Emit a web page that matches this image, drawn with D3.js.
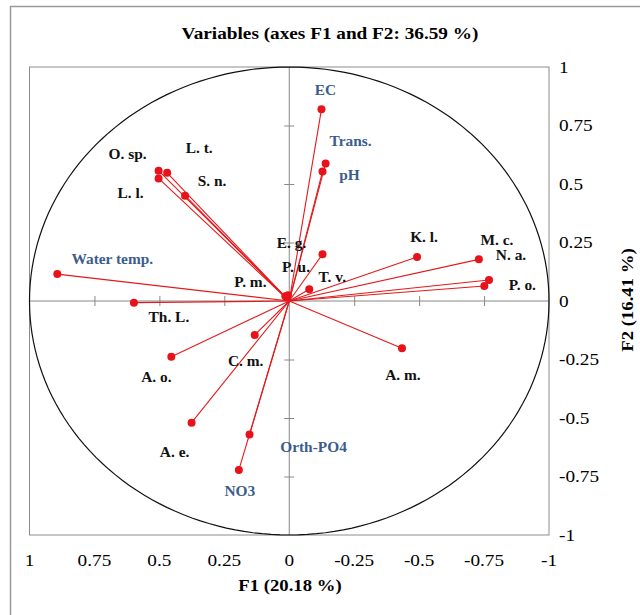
<!DOCTYPE html>
<html>
<head>
<meta charset="utf-8">
<script src="https://cdn.jsdelivr.net/npm/d3@7"></script>
<style>
  body { margin: 0; background: #fff; }
  svg { display: block; font-family: "Liberation Serif", "Times New Roman", serif; }
</style>
</head>
<body>
<svg id="chart" width="640" height="615"></svg>
<script>
// variables (loadings on F1, F2)
var names = ["O. sp.", "L. t.", "L. l.", "S. n.", "Water temp.", "Th. L.", "P. m.",
             "EC", "Trans.", "pH", "E. g.", "P. u.", "T. v.",
             "K. l.", "M. c.", "N. a.", "P. o.", "A. m.",
             "A. o.", "C. m.", "A. e.", "Orth-PO4", "NO3"];
var f1 = [0.503, 0.470, 0.503, 0.401, 0.893, 0.598, 0.015,
          -0.124, -0.140, -0.128, -0.128, 0.005, -0.077,
          -0.492, -0.730, -0.769, -0.751, -0.434,
          0.454, 0.133, 0.376, 0.153, 0.194];
var f2 = [0.557, 0.548, 0.524, 0.450, 0.115, -0.007, 0.020,
          0.819, 0.588, 0.553, 0.200, 0.025, 0.050,
          0.188, 0.178, 0.090, 0.064, -0.202,
          -0.238, -0.145, -0.520, -0.571, -0.722];
// environmental variables get the blue labels
var envVars = ["Water temp.", "EC", "Trans.", "pH", "Orth-PO4", "NO3"];

var xTicks = [1, 0.75, 0.5, 0.25, 0, -0.25, -0.5, -0.75, -1];
var yTicks = [1, 0.75, 0.5, 0.25, 0, -0.25, -0.5, -0.75, -1];
var innerTicks = [-0.75, -0.5, -0.25, 0.25, 0.5, 0.75];

// label placement relative to the point (layout only)
var labelOffset = {
  "O. sp.": [-31, -16], "L. t.": [32, -25], "L. l.": [-28, 15], "S. n.": [27, -14],
  "Water temp.": [55, -15], "Th. L.": [35, 15], "P. m.": [-35, -14],
  "EC": [4, -19], "Trans.": [25, -22], "pH": [27, 4], "E. g.": [-31, -11],
  "P. u.": [8, -28], "T. v.": [23, -12],
  "K. l.": [7, -20], "M. c.": [18, -19], "N. a.": [22, -25], "P. o.": [38, -1],
  "A. m.": [1, 27], "A. o.": [-15, 21], "C. m.": [-9, 26], "A. e.": [-17, 30],
  "Orth-PO4": [64, 13], "NO3": [1, 21]
};

var svg = d3.select("#chart");
var stretch = 1.1; // text in the picture is a bit wider than tall

var x = d3.scaleLinear().domain([1, -1]).range([29.5, 549]);
var y = d3.scaleLinear().domain([1, -1]).range([67, 535]);

function txt(g, str, px, py, opts) {
  var t = g.append("text")
    .attr("transform", "translate(" + px + "," + py + ")" + (opts.rot ? " rotate(" + opts.rot + ")" : "") + " scale(" + stretch + ",1)")
    .attr("text-anchor", opts.anchor || "middle")
    .attr("dominant-baseline", "central")
    .style("font-size", opts.size + "px")
    .style("font-weight", opts.bold ? "bold" : "normal")
    .style("fill", opts.color || "#000")
    .text(str);
  return t;
}

// outer frame
svg.append("rect")
  .attr("x", 10.5).attr("y", 6.5).attr("width", 640).attr("height", 620)
  .style("fill", "none").style("stroke", "#9a9a9a").style("stroke-width", 1.5);

txt(svg, "Variables (axes F1 and F2: 36.59 %)", 330, 33, {size: 17.5, bold: true});

// plot area
svg.append("rect")
  .attr("x", x(1)).attr("y", y(1))
  .attr("width", x(-1) - x(1)).attr("height", y(-1) - y(1))
  .style("fill", "none").style("stroke", "#8c8c8c").style("stroke-width", 1);

// zero lines
svg.append("line")
  .attr("x1", x(1)).attr("x2", x(-1)).attr("y1", y(0)).attr("y2", y(0))
  .style("stroke", "#888").style("stroke-width", 1);
svg.append("line")
  .attr("x1", x(0)).attr("x2", x(0)).attr("y1", y(1)).attr("y2", y(-1))
  .style("stroke", "#888").style("stroke-width", 1);

// tick marks crossing the zero lines
var xAx = svg.append("g")
  .attr("transform", "translate(0," + (y(0) - 5) + ")")
  .call(d3.axisBottom(x).tickValues(innerTicks).tickSize(10).tickFormat(""));
var yAx = svg.append("g")
  .attr("transform", "translate(" + (x(0) + 5) + ",0)")
  .call(d3.axisLeft(y).tickValues(innerTicks).tickSize(10).tickFormat(""));
[xAx, yAx].forEach(function(a) {
  a.select(".domain").remove();
  a.selectAll("line").style("stroke", "#888");
});

// correlation circle
var circlePts = d3.range(0, 361, 2).map(function(a) {
  var r = a * Math.PI / 180;
  return [Math.cos(r), Math.sin(r)];
});
svg.append("path")
  .datum(circlePts)
  .attr("d", d3.line().x(function(d) { return x(d[0]); }).y(function(d) { return y(d[1]); }))
  .style("fill", "none").style("stroke", "#111").style("stroke-width", 1.2);

// tick labels
xTicks.forEach(function(v) {
  txt(svg, String(v), x(v), 560, {size: 17.5});
});
yTicks.forEach(function(v) {
  txt(svg, String(v), 559, y(v), {size: 17.5, anchor: "start"});
});

// axis titles
txt(svg, "F1 (20.18 %)", 290, 585, {size: 17, bold: true});
txt(svg, "F2 (16.41 %)", 627, 300, {size: 17, bold: true, rot: -90});

// vectors
var pts = names.map(function(n, i) { return {name: n, a: f1[i], b: f2[i]}; });
var vec = svg.append("g");
vec.selectAll("line").data(pts).enter().append("line")
  .attr("x1", x(0)).attr("y1", y(0))
  .attr("x2", function(d) { return x(d.a); })
  .attr("y2", function(d) { return y(d.b); })
  .style("stroke", "#e31a1c").style("stroke-width", 1.1);
vec.selectAll("circle").data(pts).enter().append("circle")
  .attr("cx", function(d) { return x(d.a); })
  .attr("cy", function(d) { return y(d.b); })
  .attr("r", 4)
  .style("fill", "#e8121a");

// labels
pts.forEach(function(d) {
  var off = labelOffset[d.name];
  var blue = envVars.indexOf(d.name) >= 0;
  txt(svg, d.name, x(d.a) + off[0], y(d.b) + off[1],
      {size: 14, bold: true, color: blue ? "#3c5d8c" : "#111"});
});
</script>
</body>
</html>
